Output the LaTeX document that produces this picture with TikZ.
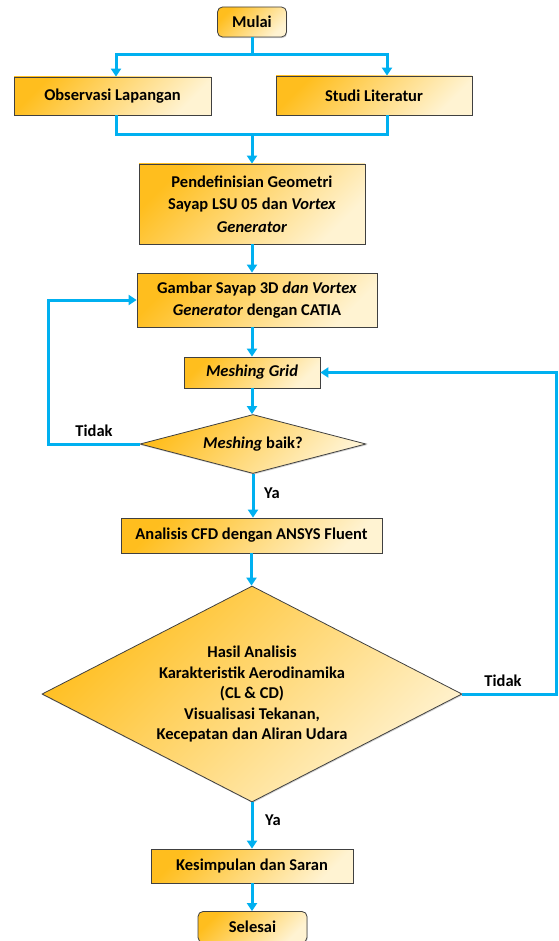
\documentclass[tikz,border=0pt]{standalone}
\usepackage{fontspec}
\setmainfont{Carlito}
\usepackage{tikz}
\usetikzlibrary{shapes.geometric,arrows.meta,shadows}

\definecolor{flowblue}{HTML}{00B0F0}
\definecolor{boxtop}{HTML}{FFBE1E}
\definecolor{boxbottom}{HTML}{FFF3D2}
\definecolor{boxline}{HTML}{404040}

\tikzset{
  shaded/.style={draw=boxline, line width=0.8pt, top color=boxtop, bottom color=boxbottom,
    shading angle=45, drop shadow={shadow xshift=0.7pt, shadow yshift=-1.2pt, opacity=0.35}},
  box/.style={shaded, rectangle, inner sep=0pt, align=center,
    font=\bfseries\fontsize{16.5}{22.5}\selectfont},
  terminal/.style={box, rounded corners=5pt},
  decision/.style={shaded, diamond, inner sep=0pt, align=center,
    font=\bfseries\fontsize{16.5}{20.5}\selectfont},
  flowline/.style={draw=flowblue, line width=3pt},
  flow/.style={flowline, -{Triangle[length=8pt,width=10pt]}},
  lbl/.style={font=\bfseries\fontsize{16.5}{20}\selectfont, inner sep=0pt}
}

\begin{document}
\begin{tikzpicture}[x=1pt, y=-1pt]
  \useasboundingbox (0,0) rectangle (558,941);

  % Nodes of the flow chart
  \node[terminal, minimum width=69pt, minimum height=30pt] (mulai) at (252,22) {Mulai};
  \node[box, minimum width=197pt, minimum height=38pt] (observasi) at (112.5,96) {Observasi Lapangan};
  \node[box, minimum width=196pt, minimum height=39pt] (studi) at (374,95.5) {Studi Literatur};
  \node[box, minimum width=226pt, minimum height=80pt] (geometri) at (252,204)
    {Pendefinisian Geometri\\Sayap LSU 05 dan \textit{Vortex}\\\textit{Generator}};
  \node[box, minimum width=240pt, minimum height=54pt] (gambar) at (257,300)
    {Gambar Sayap 3D \textit{dan Vortex}\\\textit{Generator} dengan CATIA};
  \node[box, minimum width=136pt, minimum height=31pt] (meshing) at (252,372.5) {\textit{Meshing Grid}};
  \node[decision, minimum width=226pt, minimum height=59pt, aspect=3.83] (cekmesh) at (253,444)
    {\textit{Meshing} baik?};
  \node[box, minimum width=261pt, minimum height=35pt] (cfd) at (251.5,535.5) {Analisis CFD dengan ANSYS Fluent};
  \node[decision, minimum width=420pt, minimum height=216pt, aspect=1.94] (hasil) at (252,694)
    {Hasil Analisis\\Karakteristik Aerodinamika\\(CL \& CD)\\Visualisasi Tekanan,\\Kecepatan dan Aliran Udara};
  \node[box, minimum width=202pt, minimum height=34pt] (simpulan) at (252,866) {Kesimpulan dan Saran};
  \node[terminal, minimum width=109pt, minimum height=31pt] (selesai) at (252.5,927) {Selesai};

  % Branch and merge points
  \coordinate (cabang) at (252,55);
  \coordinate (gabung) at (252,135);

  % Connectors
  \draw[flowline] (mulai.south) -- (cabang);
  \draw[flow] (cabang) -| ([xshift=3.5pt]observasi.north);
  \draw[flow] (cabang) -| ([xshift=13pt]studi.north);
  \draw[flowline] ([xshift=3.5pt]observasi.south) |- (gabung);
  \draw[flowline] ([xshift=13pt]studi.south) |- (gabung);
  \draw[flow] (gabung) -- (gabung |- geometri.north);
  \draw[flow] (geometri.south) -- (geometri.south |- gambar.north);
  \draw[flow] (geometri.south |- gambar.south) -- (meshing.north);
  \draw[flow] (meshing.south) -- (meshing.south |- cekmesh.north);
  \draw[flow] (cekmesh.west) -- ++(-91,0) |- (gambar.west);
  \draw[flow] (cekmesh.south) -- (cekmesh.south |- cfd.north);
  \draw[flow] (cfd.south) -- (cfd.south |- hasil.north);
  \draw[flow] (hasil.east) -- ++(94,0) |- (meshing.east);
  \draw[flow] (hasil.south) -- (simpulan.north);
  \draw[flow] (simpulan.south) -- (simpulan.south |- selesai.north);

  % Labels on the connectors
  \node[lbl] (tidakkiri) at (94,431) {Tidak};
  \node[lbl] (yaatas) at (272,493) {Ya};
  \node[lbl] (tidakkanan) at (503,681) {Tidak};
  \node[lbl] (yabawah) at (273,820) {Ya};
\end{tikzpicture}
\end{document}
